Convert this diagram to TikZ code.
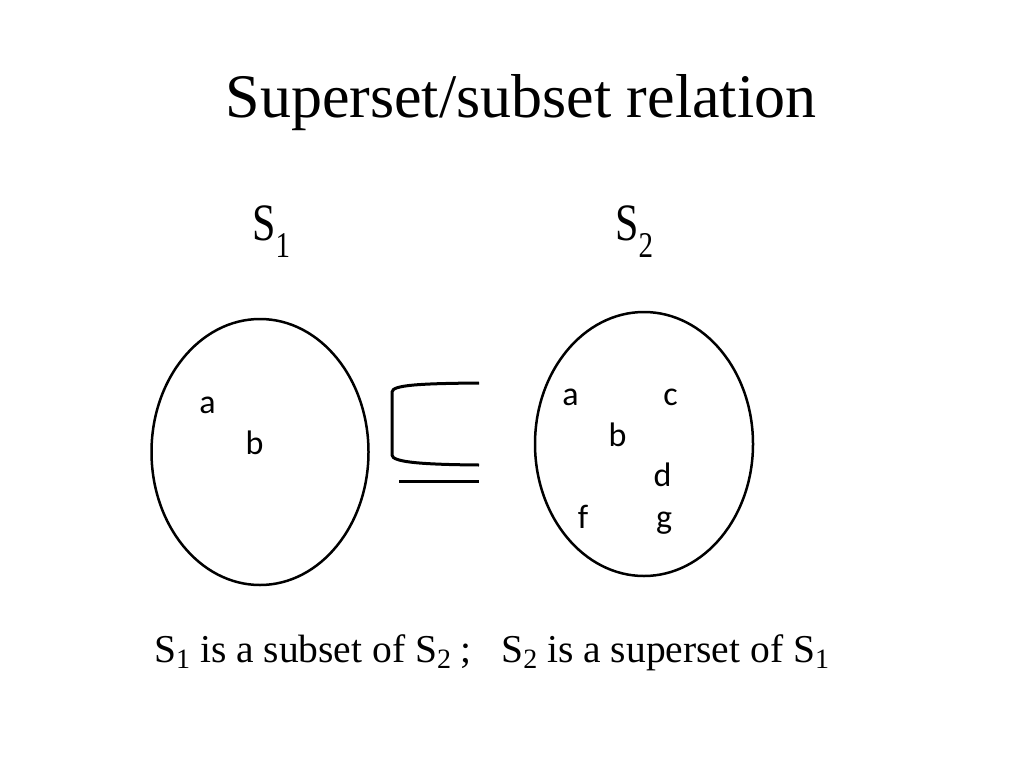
\documentclass[tikz,border=0pt]{standalone}
\usepackage{fontspec}
\usepackage{graphicx}
\setmainfont{Liberation Serif}
\newfontfamily\calfont{Carlito}
\usepackage{tikz}

\newcommand{\labsub}[1]{\raisebox{-14pt}{\fontsize{29}{29}\selectfont #1}}
\newcommand{\capsub}[1]{\raisebox{-6pt}{\fontsize{28}{28}\selectfont #1}}

\begin{document}
\begin{tikzpicture}[x=1pt,y=-1pt,
  elem/.style={anchor=base,inner sep=0,font=\calfont\fontsize{34}{34}\selectfont},
  setname/.style={anchor=base west,inner sep=0},
  setline/.style={line width=2.5pt},
  symline/.style={line width=3pt}]
\useasboundingbox (0,0) rectangle (1024,768);
\node[anchor=base] (title) at (521,117) {\fontsize{62}{62}\selectfont Superset/subset relation};
\node[setname] (nameA) at (252,240) {\scalebox{1}[1.25]{\fontsize{42}{42}\selectfont S\labsub{1}}};
\node[setname] (nameB) at (615,240) {\scalebox{1}[1.25]{\fontsize{42}{42}\selectfont S\labsub{2}}};
% left set
\draw[setline] (260,452) ellipse [x radius=108.5,y radius=133];
\node[elem] (a1) at (207.5,413) {a};
\node[elem] (b1) at (254.5,454) {b};
% subset sign
\draw[symline] (479,383) .. controls (420,383.5) and (392,385) .. (392,392) -- (392,455) .. controls (392,462) and (420,464.5) .. (479,465);
\draw[symline] (399,481) -- (479,481);
% right set
\draw[setline] (644,444) ellipse [x radius=109,y radius=132];
\node[elem] (a2) at (570.5,405) {a};
\node[elem] (c2) at (670.5,405) {c};
\node[elem] (b2) at (617.5,446.5) {b};
\node[elem] (d2) at (662.5,486.5) {d};
\node[elem] (f2) at (583,528) {f};
\node[elem] (g2) at (664,528) {g};
\node[setname] (caption) at (154,662) {\fontsize{39.5}{40}\selectfont S\capsub{1} is a subset of S\capsub{2} ;\ \ \ S\capsub{2} is a superset of S\capsub{1}};
\end{tikzpicture}
\end{document}
